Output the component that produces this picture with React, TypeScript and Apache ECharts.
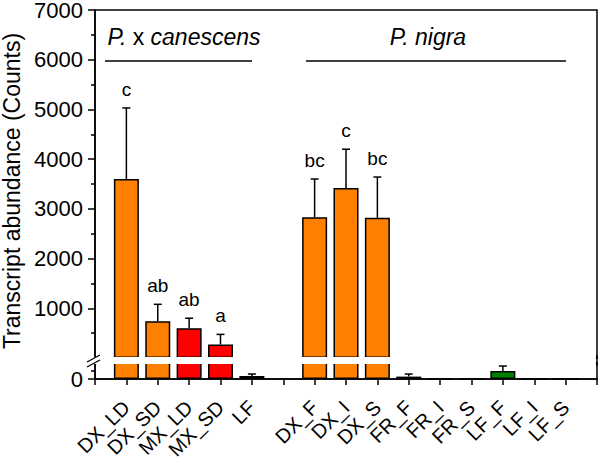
import React, { useEffect, useRef } from "react";
import * as echarts from "echarts";

// ---- data ----
const categories = ["", "DX_LD", "DX_SD", "MX_LD", "MX_SD", "LF", "", "DX_F", "DX_I", "DX_S", "FR_F", "FR_I", "FR_S", "LF_F", "LF_I", "LF_S", ""];
const means: (number | null)[] = [null, 3600, 740, 600, 270, 19, null, 2830, 3420, 2820, 15, 0, 0, 50, 0, 0, null];
const errors: (number | null)[] = [null, 1430, 340, 200, 205, 12, null, 770, 780, 820, 16, 0, 0, 31, 0, 0, null];
const letters = ["", "c", "ab", "ab", "a", "", "", "bc", "c", "bc", "", "", "", "", "", "", ""];
const barColors = ["#000", "#FF8000", "#FF8000", "#FF0000", "#FF0000", "#008000", "#000", "#FF8000", "#FF8000", "#FF8000", "#B0B0B0", "#B0B0B0", "#B0B0B0", "#008000", "#008000", "#008000", "#000"];
const upperTicks = { min: 0, max: 7000, interval: 1000 };
const lowerTicks = { min: 0, max: 100, interval: 100 };
const groupTitles = ["{i|P.} x {i|canescens}", "{i|P. nigra}"];
const yTitle = "Transcript abundance (Counts)";

const FONT = '"Liberation Sans", Arial, Helvetica, sans-serif';

// layout (pixels)
const L = 95, R = 597, TOP = 10, UPPER_BOTTOM = 358, LOWER_TOP = 363, BOTTOM = 379;

export default function App() {
  const ref = useRef<HTMLDivElement>(null);
  useEffect(() => {
    if (!ref.current) return;
    const chart = echarts.init(ref.current, null, { renderer: "svg" });
    const LOWER_MAX = lowerTicks.max;

    const upperBars = means.map((v, i) =>
      v == null || v <= LOWER_MAX ? "-" : { value: v, itemStyle: { color: barColors[i] } }
    );
    const lowerBars = means.map((v, i) =>
      v == null ? "-" : { value: v, itemStyle: { color: barColors[i] } }
    );
    const errData = means.map((v, i) => (v == null ? [i, NaN, NaN] : [i, v, errors[i] ?? 0]));

    const axisLine = { show: true, lineStyle: { color: "#000", width: 1.5 } };
    const tickStyle = { color: "#000", width: 1.5 };

    const makeErr = (idx: number, upper: boolean) => ({
      type: "custom",
      xAxisIndex: idx,
      yAxisIndex: idx,
      z: 5,
      data: errData,
      renderItem: (params: any, api: any) => {
        const i = api.value(0);
        const v = api.value(1);
        const e = api.value(2);
        if (isNaN(v)) return null;
        if (upper && v <= LOWER_MAX) return null;
        if (!upper && v > LOWER_MAX) return null;
        const children: any[] = [];
        if (e > 0) {
          const b = api.coord([i, v]);
          const t = api.coord([i, v + e]);
          children.push({ type: "line", shape: { x1: b[0], y1: b[1], x2: t[0], y2: t[1] }, style: { stroke: "#000", lineWidth: 1.5 } });
          children.push({ type: "line", shape: { x1: t[0] - 4, y1: t[1], x2: t[0] + 4, y2: t[1] }, style: { stroke: "#000", lineWidth: 1.5 } });
          const letter = letters[params.dataIndex];
          if (upper && letter) {
            children.push({
              type: "text",
              style: { text: letter, x: t[0], y: t[1] - 9, align: "center", verticalAlign: "bottom", fill: "#000", fontSize: 19, fontFamily: FONT },
            });
          }
        }
        return { type: "group", children };
      },
    });

    const gridBase = { left: L, width: R - L, show: true, borderColor: "#000", borderWidth: 1.5, backgroundColor: "transparent", containLabel: false, outerBoundsMode: "none" };

    const option: any = {
      animation: false,
      grid: [
        { ...gridBase, top: TOP, height: UPPER_BOTTOM - TOP },
        { ...gridBase, top: LOWER_TOP, height: BOTTOM - LOWER_TOP },
      ],
      xAxis: [
        { gridIndex: 0, type: "category", data: categories, boundaryGap: false, show: false },
        {
          gridIndex: 1, type: "category", data: categories, boundaryGap: false,
          axisLine,
          axisTick: { show: true, interval: 0, length: 6, lineStyle: tickStyle },
          axisLabel: { interval: 0, rotate: 45, fontSize: 20, lineHeight: 18, color: "#000", fontFamily: FONT, margin: 25 },
          splitLine: { show: false },
        },
      ],
      yAxis: [
        {
          gridIndex: 0, type: "value", ...upperTicks,
          axisLine,
          axisTick: { show: true, length: 7, lineStyle: tickStyle },
          minorTick: { show: true, splitNumber: 2, length: 4, lineStyle: tickStyle },
          splitLine: { show: false },
          axisLabel: { formatter: (v: number) => (v === 0 ? "" : String(v)), fontSize: 22, lineHeight: 16, color: "#000", fontFamily: FONT, margin: 12 },
        },
        {
          gridIndex: 1, type: "value", ...lowerTicks,
          axisLine,
          axisTick: { show: true, length: 7, lineStyle: tickStyle },
          minorTick: { show: true, splitNumber: 2, length: 4, lineStyle: tickStyle },
          splitLine: { show: false },
          axisLabel: { formatter: (v: number) => (v === 0 ? "0" : ""), fontSize: 22, lineHeight: 16, color: "#000", fontFamily: FONT, margin: 12 },
        },
      ],
      series: [
        { type: "bar", xAxisIndex: 0, yAxisIndex: 0, data: upperBars, barWidth: 25, itemStyle: { borderColor: "#000", borderWidth: 1.5 } },
        { type: "bar", xAxisIndex: 1, yAxisIndex: 1, data: lowerBars, barWidth: 25, clip: true, itemStyle: { borderColor: "#000", borderWidth: 1.5 } },
        makeErr(0, true),
        makeErr(1, false),
      ],
      graphic: [
        // axis break band
        { type: "rect", z: 100, shape: { x: 85, y: 357, width: R - 1.2 - 85, height: 7 }, style: { fill: "#fff" } },
        { type: "line", z: 101, shape: { x1: R, y1: 355, x2: R, y2: 366 }, style: { stroke: "#000", lineWidth: 1.5 } },
        { type: "line", z: 101, shape: { x1: 87, y1: 362, x2: 100, y2: 355 }, style: { stroke: "#000", lineWidth: 1.3 } },
        { type: "line", z: 101, shape: { x1: 87, y1: 367, x2: 100, y2: 360 }, style: { stroke: "#000", lineWidth: 1.3 } },
        // group titles
        {
          type: "text", z: 101, x: 184, y: 37,
          style: {
            text: groupTitles[0], align: "center", verticalAlign: "middle", fill: "#000", fontSize: 23, fontFamily: FONT,
            rich: { i: { fontStyle: "italic", fontSize: 23, fontFamily: FONT, fill: "#000" } },
          },
        },
        {
          type: "text", z: 101, x: 428, y: 37,
          style: {
            text: groupTitles[1], align: "center", verticalAlign: "middle", fill: "#000", fontSize: 23, fontFamily: FONT,
            rich: { i: { fontStyle: "italic", fontSize: 23, fontFamily: FONT, fill: "#000" } },
          },
        },
        { type: "line", z: 101, shape: { x1: 105, y1: 61, x2: 252, y2: 61 }, style: { stroke: "#000", lineWidth: 1.5 } },
        { type: "line", z: 101, shape: { x1: 306, y1: 61, x2: 566, y2: 61 }, style: { stroke: "#000", lineWidth: 1.5 } },
        // y title
        {
          type: "text", z: 101, x: 12, y: 191, rotation: Math.PI / 2,
          style: { text: yTitle, align: "center", verticalAlign: "middle", fill: "#000", fontSize: 23, fontFamily: FONT },
        },
      ],
    };
    chart.setOption(option);
    return () => chart.dispose();
  }, []);
  return <div ref={ref} style={{ position: "fixed", left: 0, top: 0, width: 599, height: 458, background: "#fff" }} />;
}
